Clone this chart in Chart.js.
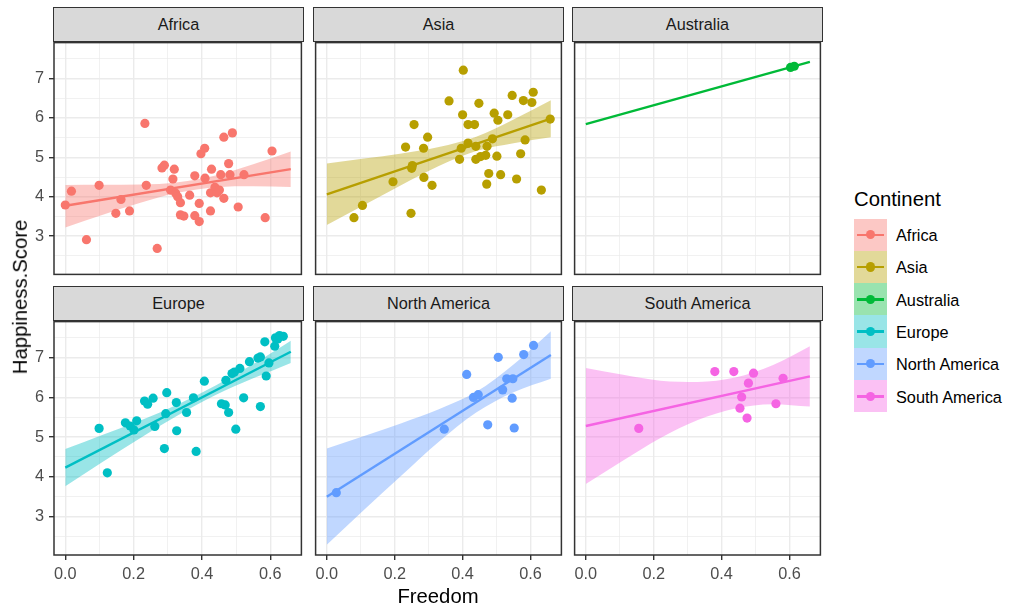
<!DOCTYPE html>
<html>
<head>
<meta charset="utf-8">
<script src="https://cdn.jsdelivr.net/npm/chart.js@4.4.1/dist/chart.umd.min.js"></script>
<style>
  html, body { margin: 0; padding: 0; background: #ffffff; }
  #wrap { position: relative; width: 1010px; height: 606px; overflow: hidden;
          font-family: 'Liberation Sans', Arial, sans-serif; }
  canvas { position: absolute; }
  .strip { position: absolute; box-sizing: border-box; background: #D9D9D9;
           border: 1.5px solid #333333; color: #1A1A1A; font-size: 16.3px;
           display: flex; align-items: center; justify-content: center; line-height: 1; }
  .title { position: absolute; font-size: 20.3px; line-height: 1; color: #000; white-space: nowrap; }
  .key { position: absolute; width: 33px; height: 32.3px; }
  .key .ln { position: absolute; left: 3px; width: 27px; top: 15px; height: 2.5px; }
  .key .dot { position: absolute; left: 11.9px; top: 11.6px; width: 9.2px; height: 9.2px; border-radius: 50%; }
  .klab { position: absolute; font-size: 16.3px; line-height: 32.3px; height: 32.3px; color: #000; white-space: nowrap; }
</style>
</head>
<body>
<div id="wrap"></div>
<script>
// Facet names and colours (ggplot hue palette)
const continents = ['Africa', 'Asia', 'Australia', 'Europe', 'North America', 'South America'];
const hues = ['#F8766D', '#B79F00', '#00BA38', '#00BFC4', '#619CFF', '#F564E3'];

// Freedom vs Happiness.Score per continent
const freedomAfrica = [0.000, 0.018, 0.062, 0.099, 0.148, 0.163, 0.188, 0.233, 0.237, 0.269, 0.283, 0.290, 0.319, 0.315, 0.308, 0.323, 0.329, 0.337, 0.337, 0.347, 0.364, 0.379, 0.379, 0.392, 0.392, 0.397, 0.408, 0.409, 0.425, 0.425, 0.428, 0.438, 0.444, 0.451, 0.455, 0.464, 0.464, 0.478, 0.482, 0.489, 0.506, 0.523, 0.585, 0.605];
const scoreAfrica   = [3.79, 4.14, 2.91, 4.29, 3.58, 3.93, 3.64, 5.86, 4.29, 2.69, 4.73, 4.80, 4.70, 4.45, 4.17, 4.09, 4.00, 3.85, 3.54, 3.51, 4.04, 4.53, 3.52, 3.37, 3.83, 5.09, 5.23, 4.47, 3.64, 4.10, 4.70, 4.24, 4.10, 4.17, 4.56, 3.96, 5.51, 4.84, 4.56, 5.62, 3.74, 4.56, 3.47, 5.16];

const freedomAsia = [0.080, 0.105, 0.195, 0.232, 0.257, 0.248, 0.250, 0.252, 0.286, 0.285, 0.297, 0.310, 0.360, 0.402, 0.400, 0.391, 0.396, 0.416, 0.435, 0.416, 0.439, 0.448, 0.439, 0.453, 0.468, 0.472, 0.477, 0.471, 0.488, 0.493, 0.504, 0.501, 0.512, 0.533, 0.546, 0.559, 0.571, 0.579, 0.584, 0.604, 0.608, 0.632, 0.658];
const scoreAsia   = [3.47, 3.78, 4.38, 5.26, 5.83, 3.58, 4.72, 4.79, 4.49, 5.23, 5.51, 4.29, 6.43, 7.21, 6.08, 4.95, 5.23, 5.83, 5.83, 5.36, 5.28, 6.37, 4.95, 5.02, 5.05, 5.28, 4.59, 4.32, 5.47, 6.12, 5.94, 5.03, 4.56, 6.08, 6.57, 4.45, 5.09, 6.44, 5.44, 6.39, 6.65, 4.17, 5.97];

const freedomAustralia = [0.603, 0.614];
const scoreAustralia   = [7.28, 7.31];

const freedomEurope = [0.099, 0.123, 0.176, 0.190, 0.201, 0.209, 0.232, 0.241, 0.257, 0.262, 0.290, 0.294, 0.297, 0.325, 0.326, 0.355, 0.375, 0.383, 0.407, 0.457, 0.468, 0.478, 0.470, 0.488, 0.499, 0.495, 0.511, 0.522, 0.539, 0.564, 0.571, 0.571, 0.584, 0.588, 0.596, 0.613, 0.615, 0.622, 0.627, 0.638];
const scoreEurope   = [5.22, 4.10, 5.36, 5.28, 5.18, 5.41, 5.91, 5.83, 5.98, 5.27, 4.71, 5.59, 6.12, 5.87, 5.16, 5.62, 5.99, 4.64, 6.41, 5.84, 5.81, 5.62, 6.43, 6.60, 5.20, 6.64, 6.73, 5.99, 6.90, 6.99, 7.02, 5.77, 7.40, 6.54, 6.87, 7.29, 7.50, 7.47, 7.56, 7.54];

const freedomNorthAmerica = [0.028, 0.346, 0.412, 0.432, 0.446, 0.474, 0.505, 0.518, 0.530, 0.548, 0.546, 0.552, 0.580, 0.609];
const scoreNorthAmerica   = [3.60, 5.20, 6.58, 6.00, 6.07, 5.31, 7.01, 6.19, 6.47, 6.47, 5.98, 5.23, 7.08, 7.31];

const freedomSouthAmerica = [0.156, 0.380, 0.436, 0.494, 0.479, 0.459, 0.454, 0.475, 0.560, 0.581];
const scoreSouthAmerica   = [5.22, 6.65, 6.65, 6.61, 6.36, 6.01, 5.73, 5.48, 5.84, 6.48];

// Linear fits (lm) over the full Freedom range
const fitX = [0, 0.66];
const fitAfrica = [3.77, 4.70];
const fitAsia = [4.06, 5.98];
const fitAustralia = [5.84, 7.42];
const fitEurope = [4.23, 7.15];
const fitNorthAmerica = [3.50, 7.07];
const fitSouthAmerica = [5.28, 6.53];

// 95% confidence ribbons
const bandX = [0, 0.11, 0.22, 0.33, 0.44, 0.55, 0.66];
const bandHighAfrica = [4.30, 4.305, 4.31, 4.37, 4.54, 4.825, 5.15];
const bandLowAfrica  = [3.22, 3.545, 3.85, 4.10, 4.24, 4.265, 4.25];
const bandHighAsia = [4.84, 4.97, 5.10, 5.26, 5.52, 5.96, 6.45];
const bandLowAsia  = [3.28, 3.79, 4.30, 4.78, 5.16, 5.36, 5.51];
const bandHighEurope = [4.70, 5.06, 5.42, 5.83, 6.30, 6.84, 7.43];
const bandLowEurope  = [3.76, 4.38, 4.98, 5.55, 6.06, 6.48, 6.87];
const bandHighNorthAmerica = [4.71, 5.03, 5.35, 5.70, 6.14, 6.83, 7.67];
const bandLowNorthAmerica  = [2.29, 3.17, 4.03, 4.88, 5.62, 6.13, 6.47];
const bandHighSouthAmerica = [6.74, 6.57, 6.42, 6.39, 6.50, 6.81, 7.29];
const bandLowSouthAmerica  = [3.82, 4.41, 4.98, 5.43, 5.72, 5.83, 5.77];

// Axis ticks (major + minor grid)
const xTicks = [0, 0.1, 0.2, 0.3, 0.4, 0.5, 0.6];
const xLabels = ['0.0', '', '0.2', '', '0.4', '', '0.6'];
const yTicks = [2.5, 3, 3.5, 4, 4.5, 5, 5.5, 6, 6.5, 7, 7.5];
const yLabels = ['', '3', '', '4', '', '5', '', '6', '', '7', ''];

const panels = [
  { fx: freedomAfrica, sy: scoreAfrica, fit: fitAfrica, hi: bandHighAfrica, lo: bandLowAfrica },
  { fx: freedomAsia, sy: scoreAsia, fit: fitAsia, hi: bandHighAsia, lo: bandLowAsia },
  { fx: freedomAustralia, sy: scoreAustralia, fit: fitAustralia, hi: null, lo: null },
  { fx: freedomEurope, sy: scoreEurope, fit: fitEurope, hi: bandHighEurope, lo: bandLowEurope },
  { fx: freedomNorthAmerica, sy: scoreNorthAmerica, fit: fitNorthAmerica, hi: bandHighNorthAmerica, lo: bandLowNorthAmerica },
  { fx: freedomSouthAmerica, sy: scoreSouthAmerica, fit: fitSouthAmerica, hi: bandHighSouthAmerica, lo: bandLowSouthAmerica }
];

const X_MIN = -0.033, X_MAX = 0.691, Y_MIN = 2.03, Y_MAX = 7.91;
const FONT = "'Liberation Sans', Arial, sans-serif";
const colL = [54, 314, 573], PW = 249;
const rowT = [41, 320], PH = 235, STRIP = 34;
const AXW = 50, AXH = 40, PAD = 3;

function alpha(hex, a) {
  const n = parseInt(hex.slice(1), 16);
  return `rgba(${(n >> 16) & 255},${(n >> 8) & 255},${n & 255},${a})`;
}
function pairs(xs, ys) { return xs.map((x, i) => ({ x: x, y: ys[i] })); }

const borderPlugin = {
  id: 'panelBorder',
  afterDraw(chart) {
    const a = chart.chartArea, ctx = chart.ctx;
    ctx.save();
    ctx.strokeStyle = '#333333';
    ctx.lineWidth = 1.5;
    ctx.strokeRect(a.left, a.top, a.right - a.left, a.bottom - a.top);
    ctx.restore();
  }
};

const wrap = document.getElementById('wrap');

panels.forEach((p, i) => {
  const col = i % 3, row = Math.floor(i / 3);
  const isLeft = col === 0, isBottom = row === 1;
  const L = colL[col], T = rowT[row];
  const leftExtra = isLeft ? AXW : PAD;
  const bottomExtra = isBottom ? AXH : PAD;

  // strip label
  const s = document.createElement('div');
  s.className = 'strip';
  s.style.left = (L - 0.75) + 'px';
  s.style.top = (T - STRIP) + 'px';
  s.style.width = (PW + 1.5) + 'px';
  s.style.height = (STRIP + 0.75) + 'px';
  s.textContent = continents[i];
  wrap.appendChild(s);

  const cv = document.createElement('canvas');
  const cw = PW + leftExtra + PAD, ch = PH + PAD + bottomExtra;
  cv.width = cw; cv.height = ch;
  cv.style.left = (L - leftExtra) + 'px';
  cv.style.top = (T - PAD) + 'px';
  cv.style.width = cw + 'px'; cv.style.height = ch + 'px';
  wrap.appendChild(cv);

  const col0 = hues[i];
  const datasets = [];
  datasets.push({
    data: pairs(p.fx, p.sy), showLine: false, order: 0,
    pointRadius: 4.6, pointBorderWidth: 0, pointBackgroundColor: col0, pointHoverRadius: 4.6
  });
  datasets.push({
    data: pairs(fitX, p.fit), showLine: true, order: 1, pointRadius: 0,
    borderColor: col0, borderWidth: 2.4, fill: false
  });
  if (p.hi) {
    datasets.push({
      data: pairs(bandX, p.hi), showLine: true, order: 2, pointRadius: 0, borderWidth: 0,
      borderColor: 'rgba(0,0,0,0)', backgroundColor: alpha(col0, 0.4), fill: '+1',
      cubicInterpolationMode: 'monotone'
    });
    datasets.push({
      data: pairs(bandX, p.lo), showLine: true, order: 3, pointRadius: 0, borderWidth: 0,
      borderColor: 'rgba(0,0,0,0)', fill: false, cubicInterpolationMode: 'monotone'
    });
  }

  const isMajorX = v => Math.abs(v * 5 - Math.round(v * 5)) < 1e-6;
  const isMajorY = v => Math.abs(v - Math.round(v)) < 1e-6;

  new Chart(cv, {
    type: 'line',
    data: { datasets: datasets },
    options: {
      responsive: false, animation: false, devicePixelRatio: 1, events: [],
      layout: { padding: { left: isLeft ? 0 : PAD, right: PAD, top: PAD, bottom: isBottom ? 0 : PAD } },
      plugins: { legend: { display: false }, tooltip: { enabled: false }, title: { display: false } },
      scales: {
        x: {
          type: 'linear', min: X_MIN, max: X_MAX,
          afterBuildTicks: sc => { sc.ticks = xTicks.map(v => ({ value: v })); },
          afterFit: sc => { sc.height = isBottom ? AXH : 0; sc.paddingLeft = 0; sc.paddingRight = 0; },
          border: { display: false },
          grid: {
            drawTicks: isBottom, tickLength: 5,
            color: c => '#EBEBEB',
            lineWidth: c => (c.tick && isMajorX(c.tick.value)) ? 1.4 : 0.7,
            tickColor: c => (c.tick && isMajorX(c.tick.value)) ? '#333333' : 'rgba(0,0,0,0)',
            tickWidth: 1.4
          },
          ticks: {
            display: isBottom, autoSkip: false, maxRotation: 0, minRotation: 0, padding: 5,
            color: '#4D4D4D', font: { family: FONT, size: 16.3 },
            callback: (v, idx) => xLabels[idx]
          }
        },
        y: {
          type: 'linear', min: Y_MIN, max: Y_MAX,
          afterBuildTicks: sc => { sc.ticks = yTicks.map(v => ({ value: v })); },
          afterFit: sc => { sc.width = isLeft ? AXW : 0; sc.paddingTop = 0; sc.paddingBottom = 0; },
          border: { display: false },
          grid: {
            drawTicks: isLeft, tickLength: 5,
            color: c => '#EBEBEB',
            lineWidth: c => (c.tick && isMajorY(c.tick.value)) ? 1.4 : 0.7,
            tickColor: c => (c.tick && isMajorY(c.tick.value)) ? '#333333' : 'rgba(0,0,0,0)',
            tickWidth: 1.4
          },
          ticks: {
            display: isLeft, autoSkip: false, padding: 5,
            color: '#4D4D4D', font: { family: FONT, size: 16.3 },
            callback: (v, idx) => yLabels[idx]
          }
        }
      }
    },
    plugins: [borderPlugin]
  });
});

// axis titles
const xt = document.createElement('div');
xt.className = 'title';
xt.textContent = 'Freedom';
xt.style.left = (colL[0] + (colL[2] + PW - colL[0]) / 2) + 'px';
xt.style.top = '586px';
xt.style.transform = 'translateX(-50%)';
wrap.appendChild(xt);

const yt = document.createElement('div');
yt.className = 'title';
yt.textContent = 'Happiness.Score';
yt.style.left = '19.5px';
yt.style.top = '297px';
yt.style.transform = 'translate(-50%, -50%) rotate(-90deg)';
wrap.appendChild(yt);

// legend
const lt = document.createElement('div');
lt.className = 'title';
lt.textContent = 'Continent';
lt.style.left = '854px';
lt.style.top = '189px';
wrap.appendChild(lt);

continents.forEach((name, i) => {
  const top = 218.5 + 32.3 * i;
  const k = document.createElement('div');
  k.className = 'key';
  k.style.left = '854px';
  k.style.top = top + 'px';
  k.style.background = alpha(hues[i], 0.4);
  const ln = document.createElement('div');
  ln.className = 'ln'; ln.style.background = hues[i];
  const dt = document.createElement('div');
  dt.className = 'dot'; dt.style.background = hues[i];
  k.appendChild(ln); k.appendChild(dt);
  wrap.appendChild(k);
  const lb = document.createElement('div');
  lb.className = 'klab';
  lb.textContent = name;
  lb.style.left = '896px';
  lb.style.top = (top + 0.5) + 'px';
  wrap.appendChild(lb);
});
</script>
</body>
</html>
